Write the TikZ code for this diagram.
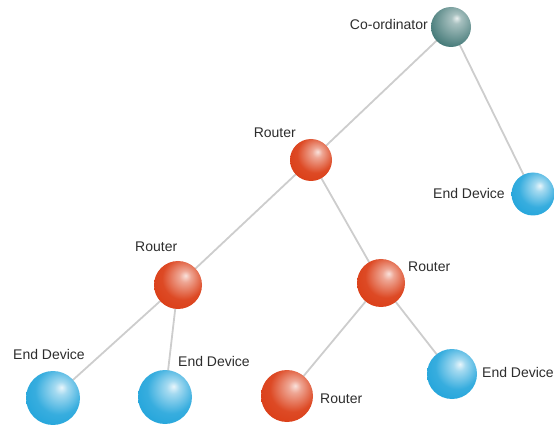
\documentclass[tikz,border=0pt]{standalone}
\usepackage{fontspec}
\setmainfont{Liberation Sans}
\pgfdeclarelayer{background}
\pgfsetlayers{background,main}
\definecolor{rOr}{RGB}{218,58,18}
\definecolor{rBl}{RGB}{28,162,218}
\definecolor{rTe}{RGB}{38,100,98}
\definecolor{lineGray}{RGB}{205,205,205}
\definecolor{txt}{RGB}{45,45,45}
\pgfdeclareradialshading{routerball}{\pgfpoint{0.28cm}{0.35cm}}{%
  color(0bp)=(white!85!rOr); color(6bp)=(white!55!rOr); color(22bp)=(rOr!92!white);
  color(38bp)=(rOr); color(52bp)=(rOr!80!black); color(70bp)=(rOr!70!black)}
\pgfdeclareradialshading{deviceball}{\pgfpoint{0.28cm}{0.35cm}}{%
  color(0bp)=(white!90!rBl); color(6bp)=(white!60!rBl); color(22bp)=(rBl!88!white);
  color(38bp)=(rBl); color(52bp)=(rBl!85!black); color(70bp)=(rBl!75!black)}
\pgfdeclareradialshading{coordball}{\pgfpoint{0.25cm}{0.4cm}}{%
  color(0bp)=(white!90!rTe); color(6bp)=(white!60!rTe); color(24bp)=(rTe!72!white);
  color(40bp)=(rTe); color(52bp)=(rTe!85!black); color(70bp)=(rTe!75!black)}
\tikzset{
  ball/.style={circle, inner sep=0pt, minimum size=#1},
  router/.style={ball=#1, shading=routerball},
  device/.style={ball=#1, shading=deviceball},
  coord/.style={ball=#1, shading=coordball},
  lbl/.style={inner sep=0pt, text=txt, font=\fontsize{14}{16}\selectfont},
  link/.style={draw=lineGray, line width=1.8pt}
}
\begin{document}
\begin{tikzpicture}[x=1pt,y=-1pt]
\useasboundingbox (0,0) rectangle (555,425);
% spheres
\node[coord=40pt]  (C)  at (451,27) {};
\node[router=42pt] (R1) at (311,160) {};
\node[device=43pt] (E0) at (533,194) {};
\node[router=48pt] (R2) at (178,285) {};
\node[router=48pt] (R3) at (381,283) {};
\node[device=54pt] (E1) at (53,398) {};
\node[device=54pt] (E2) at (165,397) {};
\node[router=52pt] (R4) at (287,396) {};
\node[device=50pt] (E3) at (452,374) {};
% labels
\node[lbl, anchor=east] (lC)  at (428,24)  {Co-ordinator};
\node[lbl, anchor=east] (lR1) at (296,133) {Router};
\node[lbl, anchor=west] (lE0) at (433,193) {End Device};
\node[lbl, anchor=west] (lR2) at (135,247) {Router};
\node[lbl, anchor=west] (lR3) at (408,267) {Router};
\node[lbl, anchor=west] (lE1) at (13,354)  {End Device};
\node[lbl, anchor=west] (lE2) at (178,361) {End Device};
\node[lbl, anchor=west] (lR4) at (320,399) {Router};
\node[lbl, anchor=west] (lE3) at (482,372) {End Device};
% connectors
\begin{pgfonlayer}{background}
\draw[link] (C.center) -- (R1.center);
\draw[link] (C.center) -- (E0.center);
\draw[link] (R1.center) -- (R2.center);
\draw[link] (R1.center) -- (R3.center);
\draw[link] (R2.center) -- (E1.center);
\draw[link] (R2.center) -- (E2.center);
\draw[link] (R3.center) -- (R4.center);
\draw[link] (R3.center) -- (E3.center);
\end{pgfonlayer}
\end{tikzpicture}
\end{document}
